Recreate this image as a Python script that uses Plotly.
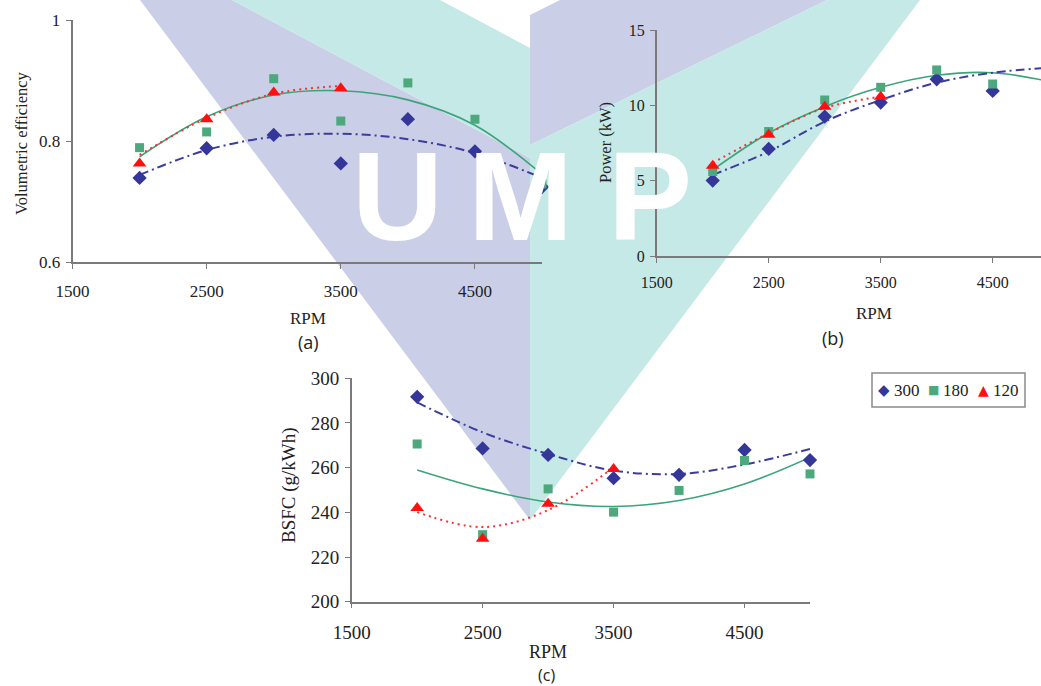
import plotly.graph_objects as go

W, H = 1041, 686

# ---------------- data ----------------
rpm = [2000, 2500, 3000, 3500, 4000, 4500, 5000]
rpm_b = [2000, 2500, 3000, 3500, 4000, 4500]
rpm_120 = [2000, 2500, 3000, 3500]

# (a) volumetric efficiency
ve_300 = [0.739, 0.788, 0.810, 0.763, 0.836, 0.783, 0.724]
ve_180 = [0.789, 0.815, 0.903, 0.833, 0.896, 0.836, 0.729]
ve_120 = [0.763, 0.836, 0.880, 0.887]
ve_300_fit = [0.744, 0.785, 0.807, 0.812, 0.803, 0.780, 0.739]
ve_180_fit = [0.774, 0.840, 0.876, 0.883, 0.868, 0.826, 0.745]
ve_120_fit = [0.777, 0.838, 0.878, 0.891]

# (b) power (kW)
pw_300 = [5.02, 7.12, 9.26, 10.19, 11.73, 10.96]
pw_180 = [5.62, 8.27, 10.36, 11.20, 12.35, 11.42]
pw_120 = [6.01, 8.05, 9.92, 10.58]
pw_300_fit = [5.40, 6.94, 8.93, 10.36, 11.51, 12.17, 12.50]
pw_180_fit = [5.73, 8.17, 9.92, 11.20, 12.00, 12.17, 11.60]
pw_120_fit = [6.19, 8.16, 9.83, 10.58]

# (c) BSFC (g/kWh)
bs_300 = [291.7, 268.6, 265.7, 255.3, 256.8, 267.9, 263.4]
bs_180 = [270.6, 230.0, 250.5, 240.1, 249.8, 263.2, 257.2]
bs_120 = [241.9, 228.2, 243.8, 259.4]
bs_300_fit = [289.2, 275.8, 266.1, 258.7, 257.2, 261.4, 268.4]
bs_180_fit = [259.0, 250.5, 244.6, 242.6, 245.3, 252.7, 264.6]
bs_120_fit = [240.1, 233.4, 241.0, 260.2]

series_names = ["300", "180", "120"]

# ---------------- styles ----------------
C300 = "#34369a"
C180 = "#4da87e"
C120 = "#ff1010"
L300 = "#3a3c9e"
L180 = "#3aa57a"
L120 = "#ff3030"
SERIF = "Liberation Serif, Times New Roman, DejaVu Serif, serif"
SANS = "Open Sans, Liberation Sans, sans-serif"
SYM = "DejaVu Sans"
AXC = "#7a7a7a"
LAV = "#cacee6"
TEAL = "#c5e9e6"


def px(x):
    return x / W


def py(y):
    return 1 - y / H


fig = go.Figure()

panels = [
    ("x", "y", rpm, (ve_300, ve_180, ve_120), (ve_300_fit, ve_180_fit, ve_120_fit)),
    ("x2", "y2", rpm_b, (pw_300, pw_180, pw_120), (pw_300_fit, pw_180_fit, pw_120_fit)),
    ("x3", "y3", rpm, (bs_300, bs_180, bs_120), (bs_300_fit, bs_180_fit, bs_120_fit)),
]

for i, (xa, ya, xs, data, fits) in enumerate(panels):
    d300, d180, d120 = data
    f300, f180, f120 = fits
    fig.add_trace(go.Scatter(x=rpm, y=f180, mode="lines", xaxis=xa, yaxis=ya,
                             line=dict(color=L180, width=1.6, shape="spline"),
                             showlegend=False, hoverinfo="skip"))
    fig.add_trace(go.Scatter(x=rpm, y=f300, mode="lines", xaxis=xa, yaxis=ya,
                             line=dict(color=L300, width=2, shape="spline",
                                       dash="9px,4px,2px,4px"),
                             showlegend=False, hoverinfo="skip"))
    fig.add_trace(go.Scatter(x=rpm_120, y=f120, mode="lines", xaxis=xa, yaxis=ya,
                             line=dict(color=L120, width=2, shape="spline", dash="2px,4px"),
                             showlegend=False, hoverinfo="skip"))
    fig.add_trace(go.Scatter(x=xs, y=d300, mode="markers", xaxis=xa, yaxis=ya,
                             name=series_names[0], showlegend=False, cliponaxis=False,
                             marker=dict(symbol="diamond", size=11, color=C300)))
    fig.add_trace(go.Scatter(x=xs, y=d180, mode="markers", xaxis=xa, yaxis=ya,
                             name=series_names[1], showlegend=False, cliponaxis=False,
                             marker=dict(symbol="square", size=9, color=C180)))
    fig.add_trace(go.Scatter(x=rpm_120, y=d120, mode="markers", xaxis=xa, yaxis=ya,
                             name=series_names[2], showlegend=False, cliponaxis=False,
                             marker=dict(symbol="triangle-up", size=12, color=C120)))

common_axis = dict(showline=True, linecolor=AXC, linewidth=1.5, ticks="outside",
                   ticklen=5, tickcolor=AXC, tickwidth=1.3, showgrid=False,
                   zeroline=False, fixedrange=True, automargin=False)

fig.update_layout(
    xaxis=dict(domain=[px(72.5), px(542)], range=[1500, 5000], dtick=1000, tick0=1500,
               anchor="y", tickfont=dict(family=SERIF, size=17, color="#222"),
               ticklabelstandoff=8, **common_axis),
    yaxis=dict(domain=[py(262), py(20)], range=[0.6, 1.0], dtick=0.2, tick0=0.6,
               anchor="x", tickfont=dict(family=SERIF, size=17, color="#222"),
               tickformat=".1~f", ticklabelstandoff=2, **common_axis),
    xaxis2=dict(domain=[px(656.7), 1.0], range=[1500, 1500 + (1041 - 656.7) / 0.112],
                dtick=1000, tick0=1500, anchor="y2",
                tickfont=dict(family=SERIF, size=16, color="#222"),
                ticklabelstandoff=6, **common_axis),
    yaxis2=dict(domain=[py(256.3), py(30)], range=[0, 15], dtick=5, anchor="x2",
                tickfont=dict(family=SERIF, size=16, color="#222"),
                ticklabelstandoff=2, **common_axis),
    xaxis3=dict(domain=[px(351.7), px(810)], range=[1500, 5000], dtick=1000, tick0=1500,
                anchor="y3", tickfont=dict(family=SERIF, size=19, color="#222"),
                ticklabelstandoff=8, **common_axis),
    yaxis3=dict(domain=[py(601.7), py(378.3)], range=[200, 300], dtick=20, anchor="x3",
                tickfont=dict(family=SERIF, size=19, color="#222"),
                ticklabelstandoff=2, **common_axis),
)

# ---------------- watermark (background decoration) ----------------
def poly(pts, color):
    d = "M " + " L ".join(f"{px(x):.5f},{py(y):.5f}" for x, y in pts) + " Z"
    return dict(type="path", xref="paper", yref="paper", path=d, fillcolor=color,
                line=dict(width=0), layer="below")


shapes = [
    poly([(140, 0), (232, 0), (530, 158), (530, 520)], LAV),
    poly([(232, 0), (440, 0), (530, 48), (530, 158)], TEAL),
    poly([(560, 0), (827, 0), (530, 145), (530, 15)], LAV),
    poly([(827, 0), (920, 0), (530, 520), (530, 145)], TEAL),
]

ann = []


def text(x, y, s, size, family=SERIF, angle=0, color="#222"):
    ann.append(dict(x=px(x), y=py(y), xref="paper", yref="paper", text=s,
                    showarrow=False, textangle=angle, xanchor="center", yanchor="middle",
                    borderpad=0, font=dict(family=family, size=size, color=color)))


# watermark letters
for ch, cx in (("U", 397), ("M", 520), ("P", 650)):
    ann.append(dict(x=px(cx), y=py(197), xref="paper", yref="paper", text=f"<b>{ch}</b>",
                    showarrow=False, xanchor="center", yanchor="middle", borderpad=0,
                    font=dict(family="Liberation Sans, Arial, sans-serif", size=126,
                              color="white")))

text(21, 143, "Volumetric efficiency", 16.5, angle=-90)
text(308, 318, "RPM", 17)
text(308, 342, "(a)", 18, SANS)
text(605, 143, "Power (kW)", 16.5, angle=-90)
text(874, 313, "RPM", 17)
text(833, 338, "(b)", 18, SANS)
text(289, 485, "BSFC (g/kWh)", 19, angle=-90)
text(548, 652, "RPM", 18)
text(546, 675, "(c)", 16, SANS)

# legend box (compact, as in the reference)
shapes.append(dict(type="rect", xref="paper", yref="paper",
                   x0=px(872), x1=px(1025), y0=py(407), y1=py(373),
                   line=dict(color="#8a8a8a", width=1.5), fillcolor="white", layer="above"))
legend_items = [("◆", C300, 884, 15, series_names[0], 907),
                ("■", C180, 933, 12, series_names[1], 956),
                ("▲", C120, 983, 14, series_names[2], 1006)]
for glyph, col, gx, gs, label, lx in legend_items:
    text(gx, 390, glyph, gs, SYM, color=col)
    text(lx, 390, label, 17)

fig.update_layout(
    width=W, height=H, margin=dict(l=0, r=0, t=0, b=0),
    paper_bgcolor="white", plot_bgcolor="rgba(0,0,0,0)",
    annotations=ann, shapes=shapes, showlegend=False,
)

fig.write_html("out.html")
